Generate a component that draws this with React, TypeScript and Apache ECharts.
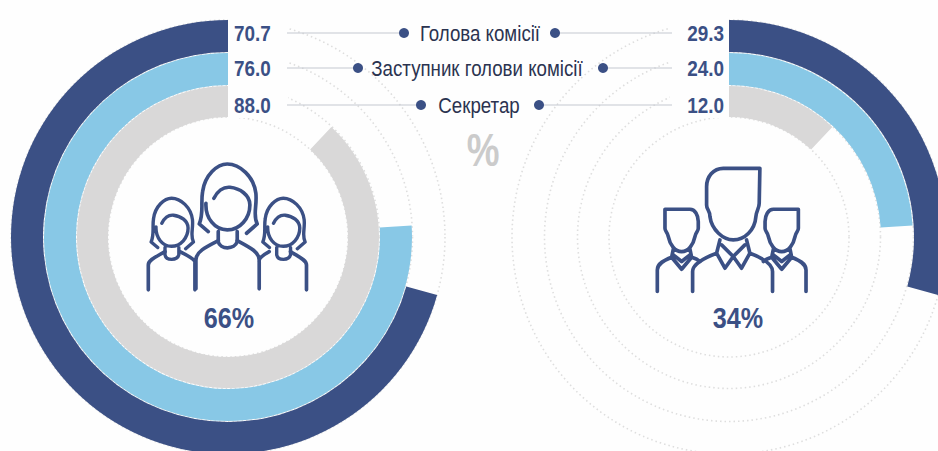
import React, { useEffect, useRef } from "react";
import * as echarts from "echarts";

const roles = ["Голова комісії", "Заступник голови комісії", "Секретар"];
const womenValues = [70.7, 76.0, 88.0];
const menValues = [29.3, 24.0, 12.0];
const womenShare = "66%";
const menShare = "34%";
const ringColors = ["#3b5085", "#88c8e6", "#d9d8d8"];

const NAVY = "#3b5085";
const FONT = '"Liberation Sans", sans-serif';
const CY = 237;
const LEFT_CX = 228;
const RIGHT_CX = 729;
const ringRadii = [[185, 217], [152, 184], [120, 151]];
const dotRadii = [120, 151.5, 184.5, 217];
const rowY = [33, 68, 105];
const leftDotX = [404, 358, 421];
const rightDotX = [555, 603, 539];
const labelX = [480, 477, 479];

const womanHead =
  "M235 245L208 222C222 190 212 160 218 125C225 75 262 42 292 42C330 42 372 80 378 130C382 170 368 195 382 222L350 250M228 160C226 205 255 240 292 240C330 240 360 205 360 165C360 135 330 115 300 112C280 110 262 125 252 145M265 245L265 275C270 300 315 300 322 275L322 245";
const womenBodies =
  "M198 417L198 330C198 305 230 290 265 272M388 417L388 330C388 305 355 290 322 272M55 420L55 345C55 330 80 320 105 305M195 420L195 335C190 325 170 315 150 305M388 335C385 325 400 315 418 305M530 420L530 345C530 330 505 320 482 305";
const manHead =
  "M360 55L250 55C220 55 200 80 200 110L200 165C200 180 210 180 210 200C215 240 250 270 280 270C315 270 345 240 348 200C350 180 358 175 358 160ZM240 270L230 310L255 355L280 320L305 355L330 310L320 270M245 285L280 320L315 285M158 425L158 365C158 345 190 325 230 310M398 425L398 365C398 345 370 325 330 310";
const manSide =
  "M75 178L150 178C165 178 175 195 175 215L175 235C175 245 168 245 165 260C160 285 145 305 125 305C105 305 90 285 85 260C82 245 75 245 75 235ZM100 298L95 322L125 358L155 322L150 298M100 315L125 335L150 315M52 425L52 360C52 340 75 330 95 322M155 322C165 325 175 330 180 335";

echarts.graphic.registerShape("womanHead", echarts.graphic.extendPath(womanHead, {}));
echarts.graphic.registerShape("womenBodies", echarts.graphic.extendPath(womenBodies, {}));
echarts.graphic.registerShape("manHead", echarts.graphic.extendPath(manHead, {}));
echarts.graphic.registerShape("manSide", echarts.graphic.extendPath(manSide, {}));

const iconStyle = (lineWidth: number) => ({
  fill: "none",
  stroke: NAVY,
  lineWidth,
  lineCap: "round",
  lineJoin: "round",
});

function rings(values: number[], cx: number, clockwise: boolean) {
  return values.map((v, i) => ({
    type: "pie",
    silent: true,
    z: 2,
    center: [cx, CY],
    radius: [ringRadii[i][0], ringRadii[i][1]],
    startAngle: 90,
    clockwise,
    label: { show: false },
    labelLine: { show: false },
    emphasis: { disabled: true },
    data: [
      { value: v, itemStyle: { color: ringColors[i] } },
      { value: 100 - v, itemStyle: { color: "transparent" } },
    ],
  }));
}

function dotted(cx: number) {
  return dotRadii.map((r) => ({
    type: "circle",
    z: 0,
    silent: true,
    shape: { cx, cy: CY, r },
    style: { fill: "none", stroke: "#dedede", lineWidth: 1.6, lineDash: [1.5, 3] },
  }));
}

function text(t: string, x: number, y: number, size: number, fill: string, align: string, weight: string, scaleX: number) {
  return {
    type: "text",
    z: 12,
    silent: true,
    x,
    y,
    scaleX,
    style: { text: t, fill, font: `${weight} ${size}px ${FONT}`, align, verticalAlign: "middle" },
  };
}

function legendRows() {
  const out: any[] = [];
  roles.forEach((role, i) => {
    const y = rowY[i];
    const line = (x1: number, x2: number) => ({
      type: "line",
      z: 11,
      silent: true,
      shape: { x1, y1: y, x2, y2: y },
      style: { stroke: "#c3c7cf", lineWidth: 1.2 },
    });
    const dot = (cx: number) => ({
      type: "circle",
      z: 12,
      silent: true,
      shape: { cx, cy: y, r: 5 },
      style: { fill: NAVY },
    });
    out.push(line(287, leftDotX[i]), line(rightDotX[i], 672), dot(leftDotX[i]), dot(rightDotX[i]));
    out.push(text(role, labelX[i], y, 22, "#2b3350", "center", "normal", 0.85));
    out.push(text(womenValues[i].toFixed(1), 234, y, 22, NAVY, "left", "bold", 0.86));
    out.push(text(menValues[i].toFixed(1), 724, y, 22, NAVY, "right", "bold", 0.86));
  });
  return out;
}

export default function App() {
  const ref = useRef<HTMLDivElement>(null);
  useEffect(() => {
    document.body.style.margin = "0";
    const chart = echarts.init(ref.current!, null, { renderer: "svg" });
    chart.setOption({
      animation: false,
      backgroundColor: "#fefefe",
      series: [...rings(womenValues, LEFT_CX, false), ...rings(menValues, RIGHT_CX, true)],
      graphic: [
        ...dotted(LEFT_CX),
        ...dotted(RIGHT_CX),
        { type: "rect", z: 1, silent: true, shape: { x: 228, y: 18, width: 60, height: 100 }, style: { fill: "#fefefe" } },
        { type: "rect", z: 1, silent: true, shape: { x: 670, y: 18, width: 59, height: 100 }, style: { fill: "#fefefe" } },
        ...legendRows(),
        text("%", 483, 150, 46, "#cbcbcb", "center", "bold", 0.8),
        text(womenShare, 229, 318, 30, NAVY, "center", "bold", 0.84),
        text(menShare, 738, 318, 30, NAVY, "center", "bold", 0.84),
        { type: "womanHead", z: 10, silent: true, x: 130, y: 150, scaleX: 1 / 3, scaleY: 1 / 3, style: iconStyle(11) },
        { type: "womanHead", z: 10, silent: true, x: 100.6, y: 188, scaleX: 0.243, scaleY: 0.243, style: iconStyle(14) },
        { type: "womanHead", z: 10, silent: true, x: 212.3, y: 188, scaleX: 0.243, scaleY: 0.243, style: iconStyle(14) },
        { type: "womenBodies", z: 10, silent: true, x: 130, y: 150, scaleX: 1 / 3, scaleY: 1 / 3, style: iconStyle(11) },
        { type: "manHead", z: 10, silent: true, x: 640, y: 150, scaleX: 1 / 3, scaleY: 1 / 3, style: iconStyle(11) },
        { type: "manSide", z: 10, silent: true, x: 640, y: 150, scaleX: 1 / 3, scaleY: 1 / 3, style: iconStyle(11) },
        { type: "manSide", z: 10, silent: true, x: 823.33, y: 150, scaleX: -1 / 3, scaleY: 1 / 3, style: iconStyle(11) },
      ],
    });
    return () => chart.dispose();
  }, []);
  return <div ref={ref} style={{ width: 938, height: 451 }} />;
}
